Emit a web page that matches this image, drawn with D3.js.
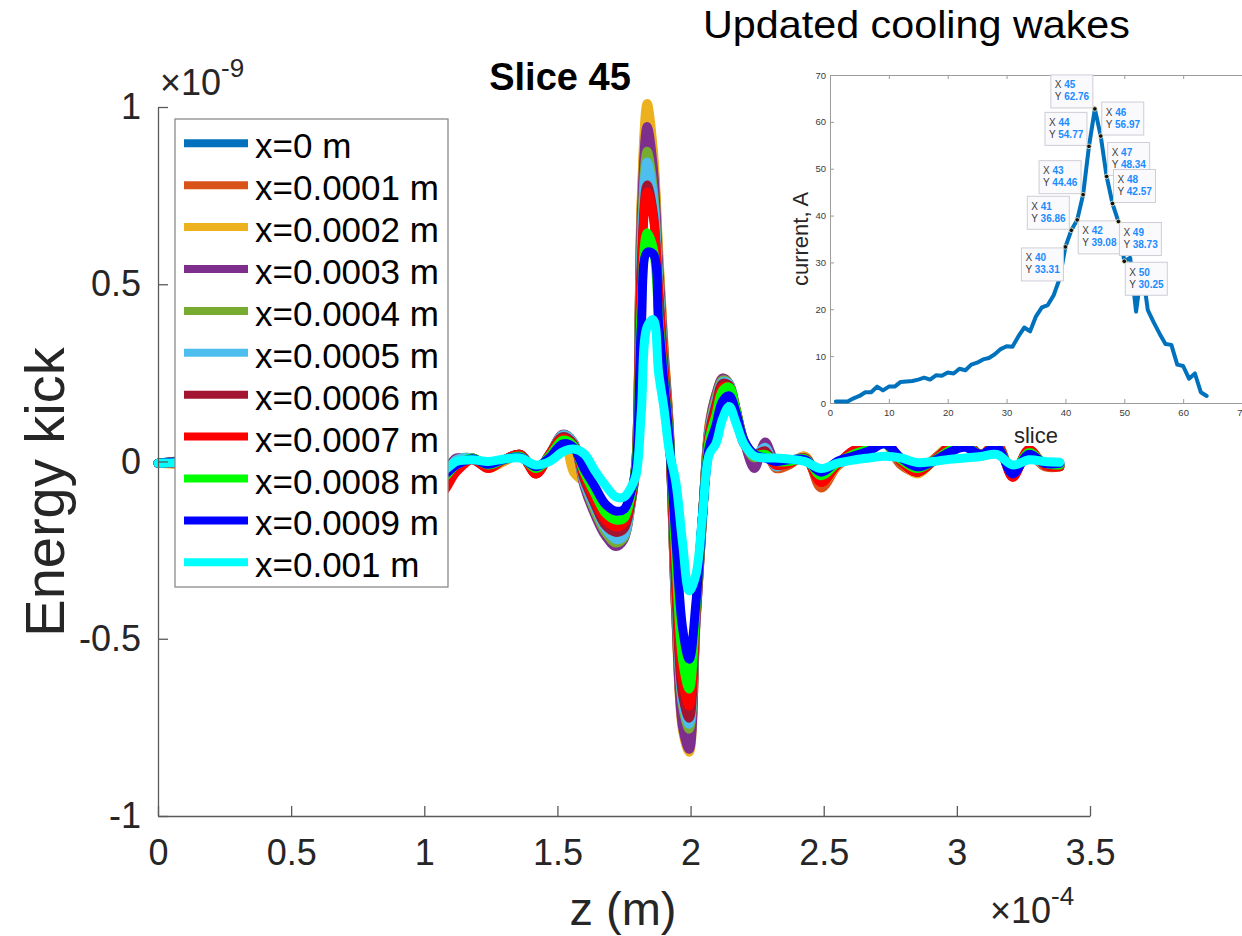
<!DOCTYPE html>
<html><head><meta charset="utf-8">
<script src="https://cdn.jsdelivr.net/npm/d3@7"></script>
<style>
html,body{margin:0;padding:0;background:#fff;}
svg{display:block;}
text{font-family:"Liberation Sans", Arial, Helvetica, sans-serif;}
</style></head><body>
<svg id="chart" width="1242" height="936"></svg>
<script>
// ---------- main chart data (z in units of 1e-4 m, kick in units of 1e-9) ----------
const Z = [0, 0.25, 0.5, 0.75, 1.0, 1.06, 1.12, 1.18, 1.24, 1.3, 1.36, 1.42, 1.47, 1.52, 1.56, 1.6, 1.64, 1.68, 1.72, 1.75,
  1.775, 1.795, 1.815, 1.837, 1.86, 1.88, 1.9, 1.92, 1.945, 1.97, 1.995, 2.02, 2.045, 2.07, 2.095, 2.12, 2.145, 2.17, 2.2, 2.24,
  2.28, 2.32, 2.37, 2.43, 2.49, 2.55, 2.61, 2.67, 2.73, 2.79, 2.85, 2.91, 2.97, 3.03, 3.09, 3.15, 3.21, 3.27, 3.33, 3.387];

const seriesNames = ["x=0 m", "x=0.0001 m", "x=0.0002 m", "x=0.0003 m", "x=0.0004 m", "x=0.0005 m",
  "x=0.0006 m", "x=0.0007 m", "x=0.0008 m", "x=0.0009 m", "x=0.001 m"];
const seriesColors = ["#0072BD", "#D95319", "#EDB120", "#7E2F8E", "#77AC30", "#4DBEEE",
  "#A2142F", "#FF0000", "#00FF00", "#0000FF", "#00FFFF"];

const E0 = [-0.005, 0.01, -0.01, 0.015, -0.02, -0.05, 0.0, 0.01, -0.015, 0.005, 0.02, -0.025, 0.02,
  0.07, 0.05, -0.06, -0.13, -0.19, -0.21, -0.19, -0.11, 0.0, 0.71, 0.96, 0.84, 0.57, 0.31, 0.09,
  -0.43, -0.73, -0.79, -0.45, -0.15, 0.1, 0.18, 0.225, 0.21, 0.14, 0.05, 0.02, 0.03, 0.0,
  0.0, 0.01, -0.05, -0.01, 0.025, 0.035, 0.05, 0.0, -0.025, 0.0, 0.035, 0.05, 0.02, 0.045, -0.035, 0.03, -0.01, -0.01];
const E1 = [-0.005, 0.005, 0.01, -0.01, 0.01, -0.06, -0.01, 0.01, -0.015, 0.0, 0.02, -0.03, 0.02,
  0.075, 0.055, -0.06, -0.14, -0.2, -0.22, -0.2, -0.12, 0.0, 0.73, 0.98, 0.86, 0.58, 0.32, 0.1,
  -0.44, -0.74, -0.8, -0.45, -0.16, 0.1, 0.18, 0.23, 0.215, 0.14, 0.05, 0.02, 0.03, -0.02,
  -0.01, 0.015, -0.075, -0.015, 0.02, 0.04, 0.05, -0.01, -0.03, 0.005, 0.04, 0.045, 0.015, 0.04, -0.03, 0.02, -0.015, -0.015];
const E2 = [-0.005, -0.01, 0.01, 0.0, -0.01, -0.05, 0.005, 0.01, -0.02, 0.0, 0.02, -0.03, 0.02,
  0.075, -0.03, -0.06, -0.12, -0.19, -0.225, -0.2, -0.13, 0.0, 0.75, 1.01, 0.88, 0.6, 0.33, 0.1,
  -0.45, -0.76, -0.82, -0.46, -0.16, 0.11, 0.19, 0.235, 0.22, 0.15, 0.06, -0.01, 0.045, -0.005,
  -0.005, 0.015, -0.06, -0.015, 0.03, 0.045, 0.055, 0.0, -0.035, 0.0, 0.045, 0.05, 0.02, 0.05, -0.03, 0.025, -0.01, -0.01];
const E3 = [-0.005, 0.01, -0.01, 0.01, 0.0, -0.04, 0.01, 0.005, -0.015, 0.005, 0.02, -0.025, 0.02,
  0.077, 0.055, -0.07, -0.15, -0.21, -0.24, -0.22, -0.13, 0.0, 0.7, 0.945, 0.83, 0.56, 0.31, 0.09,
  -0.44, -0.75, -0.812, -0.46, -0.16, 0.1, 0.19, 0.235, 0.22, 0.15, 0.06, -0.02, 0.055, 0.0,
  0.0, 0.01, -0.05, -0.01, 0.03, 0.04, 0.05, 0.0, -0.03, 0.0, 0.04, 0.05, 0.02, 0.045, -0.035, 0.03, -0.01, -0.01];
const E4 = [-0.005, 0.0, 0.01, -0.01, 0.01, -0.05, 0.005, 0.01, -0.015, 0.005, 0.015, -0.025, 0.02,
  0.075, 0.055, -0.06, -0.14, -0.2, -0.23, -0.215, -0.13, 0.0, 0.64, 0.875, 0.77, 0.52, 0.29, 0.08,
  -0.4, -0.69, -0.755, -0.44, -0.15, 0.09, 0.18, 0.23, 0.22, 0.15, 0.06, 0.01, 0.03, -0.01,
  0.0, 0.01, -0.045, -0.01, 0.025, 0.04, 0.05, 0.0, -0.03, 0.0, 0.04, 0.045, 0.015, 0.04, -0.03, 0.025, -0.01, -0.01];
const E5 = [-0.005, 0.005, -0.005, 0.01, -0.01, -0.05, 0.005, 0.01, -0.015, 0.005, 0.015, -0.025, 0.02,
  0.075, 0.055, -0.06, -0.13, -0.19, -0.22, -0.21, -0.125, -0.01, 0.61, 0.845, 0.75, 0.51, 0.28, 0.08,
  -0.39, -0.68, -0.741, -0.44, -0.15, 0.09, 0.17, 0.225, 0.22, 0.15, 0.06, 0.02, 0.04, -0.015,
  0.0, 0.01, -0.04, -0.005, 0.025, 0.04, 0.05, 0.005, -0.02, 0.0, 0.035, 0.045, 0.02, 0.04, -0.025, 0.02, -0.01, -0.01];
const E6 = [-0.005, 0.01, 0.0, -0.01, 0.01, -0.07, -0.02, 0.01, -0.015, 0.005, 0.02, -0.035, 0.02,
  0.07, 0.05, -0.05, -0.12, -0.18, -0.2, -0.19, -0.12, -0.01, 0.56, 0.78, 0.7, 0.48, 0.27, 0.08,
  -0.37, -0.66, -0.724, -0.44, -0.15, 0.08, 0.16, 0.22, 0.215, 0.15, 0.06, 0.02, 0.03, -0.01,
  -0.005, 0.01, -0.05, -0.01, 0.025, 0.04, 0.055, 0.0, -0.03, 0.0, 0.04, 0.05, 0.02, 0.045, -0.04, 0.03, -0.01, -0.015];
const E7 = [-0.005, -0.005, 0.01, 0.0, -0.01, -0.09, -0.03, 0.005, -0.02, 0.005, 0.02, -0.035, 0.02,
  0.065, 0.045, -0.04, -0.11, -0.165, -0.185, -0.175, -0.11, -0.01, 0.54, 0.76, 0.69, 0.47, 0.26, 0.07,
  -0.34, -0.62, -0.69, -0.43, -0.15, 0.07, 0.15, 0.21, 0.21, 0.15, 0.06, 0.02, 0.02, -0.01,
  -0.005, 0.01, -0.06, -0.01, 0.03, 0.04, 0.06, 0.0, -0.03, 0.0, 0.04, 0.055, 0.02, 0.05, -0.045, 0.035, -0.01, -0.015];
const E8 = [-0.005, 0.005, -0.01, 0.01, 0.0, -0.05, -0.01, 0.01, -0.01, 0.005, 0.015, -0.02, 0.015,
  0.06, 0.045, -0.03, -0.09, -0.145, -0.165, -0.16, -0.1, -0.01, 0.44, 0.645, 0.6, 0.41, 0.23, 0.07,
  -0.28, -0.56, -0.642, -0.42, -0.15, 0.06, 0.13, 0.2, 0.21, 0.15, 0.06, 0.02, 0.02, 0.0,
  0.0, 0.008, -0.04, -0.005, 0.02, 0.035, 0.05, 0.005, -0.02, 0.0, 0.03, 0.045, 0.02, 0.04, -0.03, 0.025, -0.005, -0.01];
const E9 = [-0.005, 0.005, 0.0, -0.005, 0.01, -0.04, -0.01, 0.008, -0.008, 0.006, 0.012, -0.015, 0.01,
  0.05, 0.04, -0.02, -0.07, -0.12, -0.14, -0.135, -0.09, -0.02, 0.38, 0.59, 0.585, 0.39, 0.22, 0.06,
  -0.22, -0.47, -0.558, -0.4, -0.15, 0.04, 0.1, 0.17, 0.185, 0.14, 0.06, 0.02, 0.01, 0.0,
  0.005, 0.005, -0.03, 0.0, 0.015, 0.03, 0.05, 0.01, -0.015, 0.0, 0.025, 0.04, 0.02, 0.04, -0.035, 0.02, -0.005, -0.005];
const E10 = [-0.005, 0.0, 0.01, -0.01, 0.005, -0.03, 0.0, 0.005, 0.0, 0.007, 0.01, -0.01, 0.0,
  0.027, 0.035, 0.022, -0.025, -0.067, -0.1, -0.1, -0.075, -0.04, 0.14, 0.38, 0.40, 0.25, 0.15, 0.03,
  -0.06, -0.23, -0.365, -0.32, -0.15, 0.02, 0.05, 0.12, 0.155, 0.11, 0.05, 0.015, 0.01, 0.01,
  0.007, 0.0, -0.02, -0.005, 0.004, 0.01, 0.015, 0.01, -0.003, 0.0, 0.006, 0.01, 0.014, 0.02, -0.01, 0.005, 0.0, -0.002];

const xTicks = [0, 0.5, 1, 1.5, 2, 2.5, 3, 3.5];
const yTicks = [-1, -0.5, 0, 0.5, 1];

// ---------- inset data (current per slice, slices 1..64) ----------
const current = [0.3, 0.3, 0.3, 1.0, 1.5, 2.3, 2.3, 3.5, 2.7, 3.5, 3.5, 4.5, 4.6, 4.7, 5.0, 5.4, 5.0, 5.9, 5.8, 6.5,
  6.3, 7.3, 7.0, 8.2, 8.6, 9.3, 9.6, 10.4, 11.5, 12.1, 12.0, 14.2, 16.1, 15.3, 18.5, 20.4, 20.9, 23.0, 26.5, 33.31,
  36.86, 39.08, 44.46, 54.77, 62.76, 56.97, 48.34, 42.57, 38.73, 30.25, 31.0, 19.5, 29.0, 19.8, 17.2, 14.8, 12.6, 12.4, 8.2, 7.9,
  5.2, 6.3, 2.3, 1.5];
const insetTicks = [0, 10, 20, 30, 40, 50, 60, 70];
const tipSlices = [40, 41, 42, 43, 44, 45, 46, 47, 48, 49, 50];
const tipSide = ["ll", "ul", "lr", "ul", "ul", "ul", "ur", "ur", "ur", "lr", "lr"];

// ---------- drawing ----------
const svg = d3.select("#chart");
const series = [E0, E1, E2, E3, E4, E5, E6, E7, E8, E9, E10];
series.forEach((s, i) => { if (s.length !== Z.length) throw new Error("series " + i + " has " + s.length + " values"); });

const x = d3.scaleLinear().domain([0, 3.5]).range([158, 1090]);
const y = d3.scaleLinear().domain([-1, 1]).range([816, 107]);
const line = d3.line().x(d => x(d[0])).y(d => y(d[1])).curve(d3.curveCatmullRom.alpha(0.5));

const gLines = svg.append("g");
series.forEach((vals, i) => {
  gLines.append("path")
    .datum(Z.map((z, j) => [z, vals[j]]))
    .attr("d", line)
    .attr("fill", "none")
    .attr("stroke", seriesColors[i])
    .attr("stroke-width", 9)
    .attr("stroke-linejoin", "round")
    .attr("stroke-linecap", "round");
});

const axisColor = "#5a5a5a";
const gx = svg.append("g").attr("transform", "translate(0,816)")
  .call(d3.axisBottom(x).tickValues(xTicks).tickSize(-10).tickSizeOuter(0).tickPadding(23).tickFormat(d => String(d)));
const gy = svg.append("g").attr("transform", "translate(158,0)")
  .call(d3.axisLeft(y).tickValues(yTicks).tickSize(-10).tickSizeOuter(0).tickPadding(17).tickFormat(d => String(d)));
[gx, gy].forEach(g => {
  g.attr("font-size", 36).attr("font-family", '"Liberation Sans", Arial, sans-serif');
  g.select(".domain").attr("stroke", axisColor).attr("stroke-width", 1.3);
  g.selectAll(".tick line").attr("stroke", axisColor).attr("stroke-width", 1.3);
  g.selectAll(".tick text").attr("fill", "#262626");
});

// exponent labels
const e9 = svg.append("text").attr("x", 160).attr("y", 95).attr("fill", "#262626");
e9.append("tspan").attr("font-size", 36).text("×10");
e9.append("tspan").attr("font-size", 26).attr("dy", -18).text("-9");
const e4 = svg.append("text").attr("x", 990).attr("y", 923).attr("fill", "#262626");
e4.append("tspan").attr("font-size", 36).text("×10");
e4.append("tspan").attr("font-size", 26).attr("dy", -18).text("-4");

// axis labels and title
svg.append("text").attr("x", 623).attr("y", 925).attr("text-anchor", "middle")
  .attr("font-size", 47).attr("fill", "#262626").text("z (m)");
svg.append("text").attr("transform", "translate(64,492) rotate(-90)").attr("text-anchor", "middle")
  .attr("font-size", 56).attr("fill", "#262626").text("Energy kick");
svg.append("text").attr("x", 560).attr("y", 90).attr("text-anchor", "middle")
  .attr("font-size", 38).attr("font-weight", "bold").attr("fill", "#000").text("Slice 45");

// legend
const lg = svg.append("g");
lg.append("rect").attr("x", 175).attr("y", 119).attr("width", 273).attr("height", 468)
  .attr("fill", "#fff").attr("stroke", "#8a8a8a").attr("stroke-width", 1.3);
seriesNames.forEach((n, i) => {
  const yy = 143.3 + i * 41.9;
  lg.append("line").attr("x1", 184).attr("x2", 248).attr("y1", yy).attr("y2", yy)
    .attr("stroke", seriesColors[i]).attr("stroke-width", 8);
  lg.append("text").attr("x", 255).attr("y", yy + 15).attr("font-size", 35).attr("fill", "#000").text(n);
});

// ---------- inset ----------
const ix = d3.scaleLinear().domain([0, 70]).range([830, 1242]);
const iy = d3.scaleLinear().domain([0, 70]).range([403, 75]);
svg.append("rect").attr("x", 787).attr("y", 56).attr("width", 455).attr("height", 390).attr("fill", "#fff");

const ic = "#9c9c9c";
const ib = svg.append("g").attr("transform", "translate(0,403)")
  .call(d3.axisBottom(ix).tickValues(insetTicks).tickSize(-4).tickSizeOuter(0).tickPadding(6));
const it = svg.append("g").attr("transform", "translate(0,75)")
  .call(d3.axisTop(ix).tickValues(insetTicks).tickSize(-4).tickSizeOuter(0).tickFormat(""));
const il = svg.append("g").attr("transform", "translate(830,0)")
  .call(d3.axisLeft(iy).tickValues(insetTicks).tickSize(-4).tickSizeOuter(0).tickPadding(4));
[ib, it, il].forEach(g => {
  g.attr("font-size", 9.5).attr("font-family", '"Liberation Sans", Arial, sans-serif');
  g.select(".domain").attr("stroke", ic).attr("stroke-width", 1);
  g.selectAll(".tick line").attr("stroke", ic);
  g.selectAll(".tick text").attr("fill", "#3a3a3a");
});

const iline = d3.line().x((d, i) => ix(i + 1)).y(d => iy(d)).curve(d3.curveLinear);
svg.append("path").datum(current).attr("d", iline).attr("fill", "none")
  .attr("stroke", "#0072BD").attr("stroke-width", 4).attr("stroke-linejoin", "round").attr("stroke-linecap", "round");

svg.append("text").attr("x", 1036).attr("y", 443).attr("text-anchor", "middle")
  .attr("font-size", 22).attr("fill", "#262626").text("slice");
svg.append("text").attr("transform", "translate(808,239) rotate(-90)").attr("text-anchor", "middle")
  .attr("font-size", 22).attr("fill", "#262626").text("current, A");

// data tips
const tw = 42, th = 33;
tipSlices.forEach((s, k) => {
  const v = current[s - 1];
  const px = ix(s), py = iy(v);
  const side = tipSide[k];
  const bx = side[1] === "l" ? px - 2 - tw : px + 1;
  const by = side[0] === "u" ? py - 1 - th : py + 1;
  const g = svg.append("g");
  g.append("rect").attr("x", bx).attr("y", by).attr("width", tw).attr("height", th)
    .attr("fill", "#fafafd").attr("stroke", "#cdced6").attr("stroke-width", 1);
  const t1 = g.append("text").attr("x", bx + 4).attr("y", by + 13.5).attr("font-size", 10);
  t1.append("tspan").attr("fill", "#404040").text("X ");
  t1.append("tspan").attr("fill", "#1a8cff").attr("font-weight", "bold").text(String(s));
  const t2 = g.append("text").attr("x", bx + 4).attr("y", by + 25.5).attr("font-size", 10);
  t2.append("tspan").attr("fill", "#404040").text("Y ");
  t2.append("tspan").attr("fill", "#1a8cff").attr("font-weight", "bold").text(v.toFixed(2));
});
tipSlices.forEach(s => {
  svg.append("circle").attr("cx", ix(s)).attr("cy", iy(current[s - 1])).attr("r", 2.3)
    .attr("fill", "#111").attr("stroke", "#f4f0c8").attr("stroke-width", 0.8);
});

// slide heading
svg.append("text").attr("x", 703).attr("y", 38).attr("font-family", "Lato, 'Open Sans', sans-serif")
  .attr("font-size", 39).attr("fill", "#000").attr("textLength", 427).attr("lengthAdjust", "spacingAndGlyphs")
  .text("Updated cooling wakes");
</script>
</body></html>
